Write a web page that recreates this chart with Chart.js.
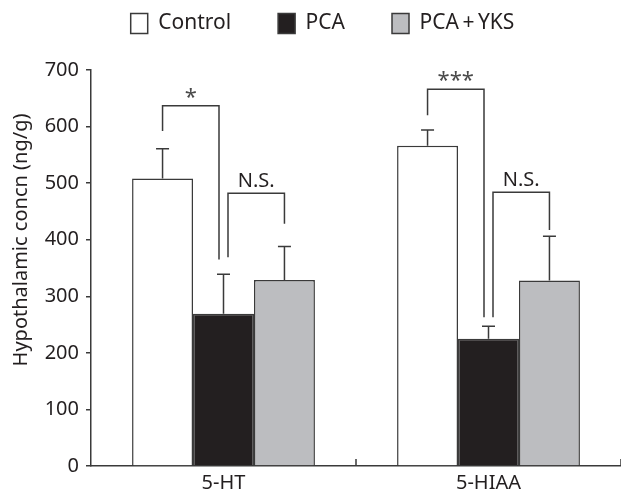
<!DOCTYPE html>
<html>
<head>
<meta charset="utf-8">
<script src="https://cdn.jsdelivr.net/npm/chart.js@4.4.0/dist/chart.umd.min.js"></script>
<style>
  html, body { margin: 0; padding: 0; background: #fff; }
  #wrap { width: 621px; height: 492px; }
</style>
</head>
<body>
<div id="wrap"><canvas id="myChart" width="621" height="492"></canvas></div>
<script>
// data
var categories = ['5-HT', '5-HIAA'];
var seriesNames = ['Control', 'PCA', 'PCA\u2009+\u2009YKS'];
var controlValues = [508, 566];
var pcaValues = [269, 225];
var yksValues = [329, 328];
var controlErr = [53, 28];
var pcaErr = [70, 22];
var yksErr = [59, 78];
var yTicks = [0, 100, 200, 300, 400, 500, 600, 700];
var yTitle = 'Hypothalamic concn (ng/g)';

// significance brackets
var bracketCategory = [0, 0, 1, 1];
var bracketFrom = [0, 1, 0, 1];
var bracketTo = [1, 2, 1, 2];
var bracketLeftEnd = [592, 369, 620, 263];
var bracketTop = [637, 482, 666, 484];
var bracketRightEnd = [365, 428, 263, 417];
var bracketLabels = ['*', 'N.S.', '***', 'N.S.'];

var errors = [controlErr, pcaErr, yksErr];
var ink = '#231f20';
var lineCol = '#3a3a3a';
var fontFam = '"Noto Sans", "Open Sans", sans-serif';

Chart.defaults.font.family = fontFam;
Chart.defaults.color = ink;

var ctx = document.getElementById('myChart').getContext('2d');

// error bars, brackets, title, inner x ticks
var extras = {
    id: 'extras',
    beforeLayout: function(chart) {
        // leave a gap under the legend without moving its items
        var lg = chart.legend;
        if (lg && !lg._gapPatched) {
            var fit = lg.fit;
            lg.fit = function() {
                fit.call(this);
                this.height += 26;
            };
            lg._gapPatched = true;
        }
    },
    afterDatasetsDraw: function(chart) {
        var c = chart.ctx;
        var y = chart.scales.y;
        var x = chart.scales.x;
        c.save();
        c.strokeStyle = lineCol;
        c.lineWidth = 1.5;

        // error bars (upper only)
        chart.data.datasets.forEach(function(ds, i) {
            var meta = chart.getDatasetMeta(i);
            meta.data.forEach(function(bar, j) {
                var top = y.getPixelForValue(ds.data[j] + errors[i][j]);
                c.beginPath();
                c.moveTo(bar.x, bar.y);
                c.lineTo(bar.x, top);
                c.moveTo(bar.x - 6.5, top);
                c.lineTo(bar.x + 6.5, top);
                c.stroke();
            });
        });

        // brackets
        for (var k = 0; k < bracketLabels.length; k++) {
            var cat = bracketCategory[k];
            var x1 = chart.getDatasetMeta(bracketFrom[k]).data[cat].x;
            var x2 = chart.getDatasetMeta(bracketTo[k]).data[cat].x;
            if (bracketFrom[k] === 1) x1 += 4.5;
            if (bracketTo[k] === 1) x2 -= 4.5;
            var yt = y.getPixelForValue(bracketTop[k]);
            c.beginPath();
            c.moveTo(x1, y.getPixelForValue(bracketLeftEnd[k]));
            c.lineTo(x1, yt);
            c.lineTo(x2, yt);
            c.lineTo(x2, y.getPixelForValue(bracketRightEnd[k]));
            c.stroke();

            var isStar = bracketLabels[k].indexOf('*') === 0;
            c.fillStyle = isStar ? '#4a4a4a' : ink;
            c.font = (isStar ? '22px ' : '20px ') + fontFam;
            c.textAlign = 'center';
            c.textBaseline = 'alphabetic';
            c.fillText(bracketLabels[k], (x1 + x2) / 2, yt + (isStar ? -2 : -6));
        }

        // small upward ticks at category boundaries
        c.beginPath();
        for (var b = 0; b < categories.length; b++) {
            var bx = x.getPixelForValue(b + 0.5);
            c.moveTo(bx, x.top);
            c.lineTo(bx, x.top - 7);
        }
        c.stroke();

        // y axis title
        c.fillStyle = ink;
        c.font = '20px ' + fontFam;
        c.textAlign = 'center';
        c.textBaseline = 'middle';
        c.translate(21, 240);
        c.rotate(-Math.PI / 2);
        c.fillText(yTitle, 0, 0);
        c.restore();
    }
};

var chart = new Chart(ctx, {
    type: 'bar',
    data: {
        labels: categories,
        datasets: [{
            label: seriesNames[0],
            data: controlValues,
            backgroundColor: '#ffffff',
            borderColor: lineCol,
            borderWidth: 1.5
        }, {
            label: seriesNames[1],
            data: pcaValues,
            backgroundColor: ink,
            borderColor: lineCol,
            borderWidth: 1.5
        }, {
            label: seriesNames[2],
            data: yksValues,
            backgroundColor: '#bcbdc0',
            borderColor: lineCol,
            borderWidth: 1.5
        }]
    },
    options: {
        responsive: false,
        animation: false,
        events: [],
        layout: { padding: { top: -34, left: 24, right: 0, bottom: 0 } },
        datasets: {
            bar: { categoryPercentage: 0.69, barPercentage: 1.0 }
        },
        plugins: {
            tooltip: { enabled: false },
            legend: {
                position: 'top',
                labels: {
                    boxWidth: 17,
                    boxHeight: 20,
                    padding: 47,
                    color: ink,
                    font: { size: 21 }
                }
            }
        },
        scales: {
            x: {
                grid: { display: true, drawOnChartArea: false, drawTicks: false },
                border: { color: lineCol, width: 1.5 },
                ticks: { padding: 5, color: ink, font: { size: 20 } },
                afterFit: function(scale) { scale.height = 26; }
            },
            y: {
                min: 0,
                max: 700,
                afterBuildTicks: function(scale) {
                    scale.ticks = yTicks.map(function(v) { return { value: v }; });
                },
                grid: { drawOnChartArea: false, drawTicks: true, tickLength: 5, color: lineCol, lineWidth: 1.5 },
                border: { color: lineCol, width: 1.5 },
                ticks: { padding: 7, color: ink, font: { size: 20 } },
                afterFit: function(scale) { scale.width = 67; }
            }
        }
    },
    plugins: [extras]
});
</script>
</body>
</html>
